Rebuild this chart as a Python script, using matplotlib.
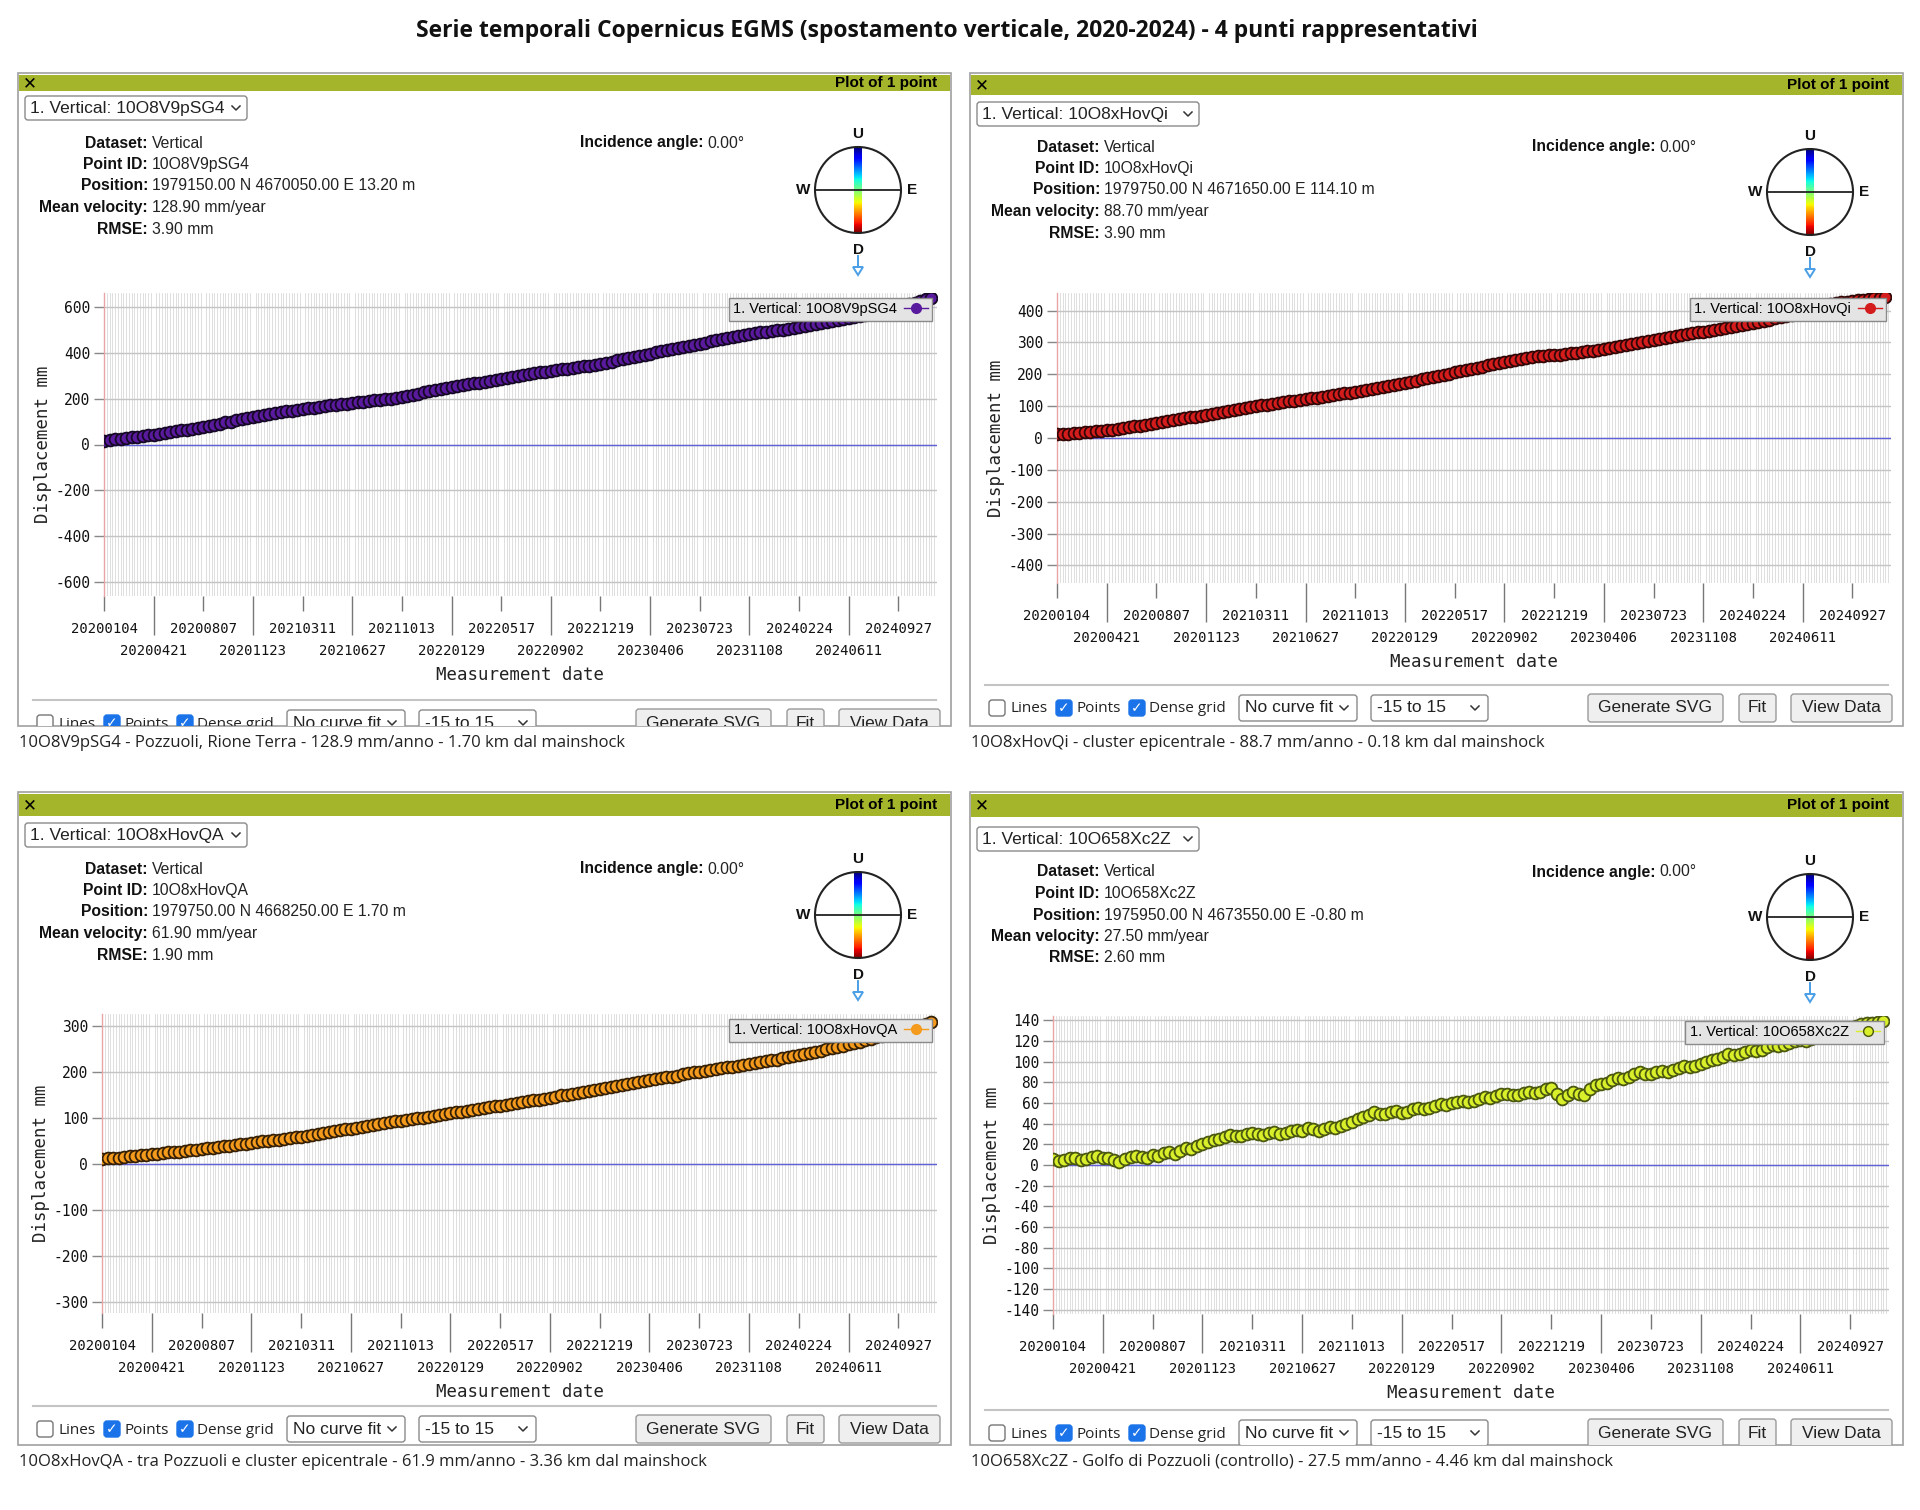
import numpy as np
import matplotlib.pyplot as plt
from matplotlib.patches import Rectangle, FancyBboxPatch, Circle, Polygon
from matplotlib.lines import Line2D
from matplotlib.ticker import MultipleLocator

plt.rcParams['axes.unicode_minus'] = False

W, H = 1920, 1510
PW, PH = 933, 653  # size of one screenshot panel, px

TITLE = "Serie temporali Copernicus EGMS (spostamento verticale, 2020-2024) - 4 punti rappresentativi"

# labelled acquisition dates (every 108 days from 2020-01-04)
tick_dates = ["20200104", "20200421", "20200807", "20201123", "20210311", "20210627",
              "20211013", "20220129", "20220517", "20220902", "20221219", "20230406",
              "20230723", "20231108", "20240224", "20240611", "20240927"]
tick_days = [0, 108, 216, 324, 432, 540, 648, 756, 864, 972, 1080, 1188,
             1296, 1404, 1512, 1620, 1728]
last_day = 1812

# acquisitions kept for plotting: every 2nd Sentinel-1 pass (12 days), days since 2020-01-04
acq_days = np.arange(0, 1801, 12)

point_ids = ["10O8V9pSG4", "10O8xHovQi", "10O8xHovQA", "10O658Xc2Z"]
positions = ["1979150.00 N 4670050.00 E 13.20 m",
             "1979750.00 N 4671650.00 E 114.10 m",
             "1979750.00 N 4668250.00 E 1.70 m",
             "1975950.00 N 4673550.00 E -0.80 m"]
velocities = ["128.90", "88.70", "61.90", "27.50"]
rmse = ["3.90", "3.90", "1.90", "2.60"]
captions = [
    "10O8V9pSG4 - Pozzuoli, Rione Terra - 128.9 mm/anno - 1.70 km dal mainshock",
    "10O8xHovQi - cluster epicentrale - 88.7 mm/anno - 0.18 km dal mainshock",
    "10O8xHovQA - tra Pozzuoli e cluster epicentrale - 61.9 mm/anno - 3.36 km dal mainshock",
    "10O658Xc2Z - Golfo di Pozzuoli (controllo) - 27.5 mm/anno - 4.46 km dal mainshock",
]

# displacement (mm)
disp_1 = [17, 19, 22, 25, 28, 31, 34, 37, 40, 43, 46, 49, 53, 57, 61, 64, 68, 72, 77, 81,
          86, 91, 96, 100, 105, 110, 115, 119, 123, 127, 131, 136, 140, 144, 148, 151, 155, 158, 161, 164,
          167, 170, 173, 175, 178, 181, 184, 186, 189, 192, 195, 197, 200, 203, 207, 212, 217, 222, 227, 231,
          236, 241, 246, 250, 254, 258, 262, 266, 270, 274, 278, 282, 286, 290, 294, 298, 302, 306, 310, 314,
          318, 322, 325, 328, 331, 335, 338, 341, 344, 348, 352, 356, 361, 366, 371, 376, 381, 386, 391, 396,
          401, 406, 411, 415, 420, 425, 430, 435, 440, 444, 449, 454, 459, 464, 469, 474, 478, 481, 484, 488,
          491, 494, 497, 500, 503, 506, 510, 515, 519, 524, 528, 532, 537, 541, 546, 550, 555, 560, 565, 570,
          575, 580, 585, 590, 595, 602, 610, 617, 625, 632, 640]
disp_2 = [12, 13, 14, 15, 17, 18, 19, 21, 22, 24, 26, 28, 31, 34, 37, 39, 42, 44, 47, 50,
          53, 56, 59, 62, 65, 67, 70, 73, 76, 79, 82, 85, 88, 90, 93, 96, 99, 102, 105, 108,
          111, 113, 115, 117, 120, 122, 125, 127, 130, 132, 135, 137, 140, 142, 145, 148, 151, 154, 157, 160,
          164, 167, 170, 173, 177, 180, 184, 187, 191, 195, 199, 202, 206, 209, 213, 217, 221, 224, 228, 231,
          234, 237, 241, 244, 248, 251, 254, 256, 258, 259, 261, 262, 264, 266, 268, 270, 272, 274, 276, 278,
          281, 284, 288, 291, 295, 298, 302, 305, 309, 311, 314, 317, 320, 323, 326, 329, 332, 334, 337, 340,
          343, 346, 349, 352, 356, 359, 362, 365, 368, 371, 375, 379, 383, 387, 392, 396, 401, 405, 410, 414,
          419, 423, 426, 428, 430, 432, 434, 436, 438, 440, 442]
disp_3 = [10, 11, 12, 13, 14, 16, 17, 18, 19, 20, 21, 23, 24, 25, 26, 28, 29, 30, 31, 33,
          34, 36, 37, 39, 40, 42, 43, 45, 46, 48, 49, 51, 52, 54, 55, 57, 58, 60, 62, 64,
          66, 68, 70, 72, 74, 76, 78, 80, 82, 84, 86, 88, 90, 92, 93, 95, 97, 99, 100, 102,
          104, 106, 107, 109, 111, 113, 115, 117, 118, 120, 122, 124, 125, 127, 129, 131, 133, 135, 137, 139,
          141, 143, 145, 148, 150, 152, 154, 156, 158, 160, 162, 164, 166, 168, 170, 173, 175, 177, 179, 181,
          183, 185, 187, 189, 191, 194, 196, 198, 200, 202, 203, 205, 207, 209, 210, 212, 214, 216, 218, 220,
          222, 224, 226, 229, 231, 233, 235, 238, 240, 243, 245, 248, 251, 254, 256, 259, 262, 265, 268, 271,
          274, 277, 280, 283, 286, 289, 292, 296, 300, 304, 308]
disp_4 = [6, 4, 5, 7, 7, 5, 6, 8, 9, 7, 7, 5, 3, 6, 8, 9, 8, 7, 10, 9,
          12, 13, 11, 14, 16, 15, 18, 20, 22, 24, 25, 27, 29, 28, 28, 30, 31, 30, 29, 31,
          32, 30, 31, 33, 34, 33, 36, 35, 33, 35, 37, 36, 38, 40, 42, 44, 46, 48, 51, 49,
          49, 51, 52, 50, 51, 54, 55, 54, 55, 57, 59, 58, 60, 61, 62, 61, 62, 64, 66, 65,
          67, 69, 69, 68, 68, 70, 71, 70, 71, 73, 74, 69, 64, 68, 71, 69, 68, 73, 77, 78,
          79, 82, 84, 83, 85, 88, 90, 88, 88, 90, 91, 90, 92, 94, 96, 95, 96, 98, 100, 101,
          102, 104, 107, 106, 107, 109, 111, 110, 111, 114, 116, 115, 116, 118, 120, 121, 120, 122, 124, 125,
          126, 129, 131, 132, 132, 134, 136, 137, 137, 138, 139]
series = [disp_1, disp_2, disp_3, disp_4]

y_limits = [660, 455, 325, 144]
y_tick_max = [600, 400, 300, 140]
y_tick_step = [200, 100, 100, 20]

face_colors = ["#5a1a9e", "#d41c1c", "#f49a1c", "#d9ef2a"]
edge_colors = ["#150824", "#300606", "#352006", "#4a5810"]

GREEN = "#a4b42b"

# panel geometry in px (relative to panel top-left)
layouts = [
    dict(x0=18, y0=73, bar=18, dd=23, info=70, cy=117, ax=(86, 919, 220, 523), tb=650),
    dict(x0=970, y0=73, bar=22, dd=29, info=74, cy=119, ax=(87, 921, 220, 510), tb=635),
    dict(x0=18, y0=792, bar=24, dd=31, info=77, cy=123, ax=(84, 919, 222, 521), tb=637),
    dict(x0=970, y0=792, bar=25, dd=35, info=80, cy=125, ax=(83, 919, 224, 522), tb=641),
]

fig = plt.figure(figsize=(19.2, 15.1), dpi=100)
fig.patch.set_facecolor("white")
bg = fig.add_axes([0, 0, 1, 1])
bg.axis("off")


def chevron(x, y):
    ln, = bg.plot([x - 4, x, x + 4], [y - 2, y + 2, y - 2], color="#333333", lw=1.1, zorder=4)
    return [ln]


def checkbox(x, y, checked):
    arts = []
    if checked:
        arts.append(bg.add_patch(FancyBboxPatch((x, y - 8), 16, 16,
                                                boxstyle="round,pad=0,rounding_size=3",
                                                fc="#1a73e8", ec="#1a73e8", lw=1, zorder=3)))
        arts.append(bg.text(x + 8, y + 0.5, "✓", ha="center", va="center", color="white",
                            fontsize=10, weight="bold", family="DejaVu Sans", zorder=4))
    else:
        arts.append(bg.add_patch(FancyBboxPatch((x, y - 8), 16, 16,
                                                boxstyle="round,pad=0,rounding_size=3",
                                                fc="white", ec="#767676", lw=1, zorder=3)))
    return arts


def draw_panel(i):
    L = layouts[i]
    x0, y0 = L["x0"], L["y0"]
    pid = point_ids[i]

    frame = Rectangle((x0, y0), PW, PH, fc="white", ec="#a0a0a0", lw=1.2, zorder=1)
    bg.add_patch(frame)
    bg.add_patch(Rectangle((x0 + 1, y0 + 2), PW - 2, L["bar"] - 2, fc=GREEN, ec="none", zorder=2))
    bar_c = y0 + 2 + (L["bar"] - 2) / 2
    bg.text(x0 + 12, bar_c, "✕", fontsize=12, ha="center", va="center", family="DejaVu Sans", zorder=3)
    bg.text(x0 + PW - 14, bar_c, "Plot of 1 point", ha="right", va="center", fontsize=11,
            weight="bold", family="Liberation Sans", zorder=3)

    # series dropdown
    dd = y0 + L["dd"]
    bg.add_patch(FancyBboxPatch((x0 + 7, dd), 222, 24, boxstyle="round,pad=0,rounding_size=3",
                                fc="white", ec="#8a8a8a", lw=1, zorder=2))
    bg.text(x0 + 12, dd + 12.5, f"1. Vertical: {pid}", va="center", fontsize=12.5,
            family="Liberation Sans", color="#222222", zorder=3)
    chevron(x0 + 218, dd + 12)

    # info block
    labels = ["Dataset:", "Point ID:", "Position:", "Mean velocity:", "RMSE:"]
    values = ["Vertical", pid, positions[i], f"{velocities[i]} mm/year", f"{rmse[i]} mm"]
    for k, (lab, val) in enumerate(zip(labels, values)):
        y = y0 + L["info"] + k * 21.5
        bg.text(x0 + 130, y, lab, ha="right", va="center", weight="bold", fontsize=11.3,
                family="Liberation Sans", color="#111111", zorder=3)
        bg.text(x0 + 134, y, val, ha="left", va="center", fontsize=11.3,
                family="Liberation Sans", color="#222222", zorder=3)
    yi = y0 + L["info"]
    bg.text(x0 + 685, yi, "Incidence angle:", ha="right", va="center", weight="bold", fontsize=11.3,
            family="Liberation Sans", color="#111111", zorder=3)
    bg.text(x0 + 689, yi, "0.00°", ha="left", va="center", fontsize=11.3,
            family="Liberation Sans", color="#222222", zorder=3)

    # compass
    cx, cy, r = x0 + 840, y0 + L["cy"], 43
    bg.imshow(np.linspace(0, 1, 120).reshape(-1, 1), extent=(cx - 4, cx + 4, cy + r, cy - r),
              cmap="jet", aspect="auto", zorder=3)
    bg.add_patch(Circle((cx, cy), r, fill=False, ec="#222222", lw=1.5, zorder=4))
    bg.plot([cx - r, cx + r], [cy, cy], color="#222222", lw=1.3, zorder=4)
    for s, dx, dy in [("U", 0, -56), ("W", -55, 0), ("E", 54, 0), ("D", 0, 60)]:
        bg.text(cx + dx, cy + dy, s, ha="center", va="center", weight="bold", fontsize=11,
                family="Liberation Sans", color="#111111", zorder=4)
    bg.plot([cx, cx], [cy + 66, cy + 77], color="#4a9fe6", lw=1.4, zorder=4)
    bg.add_patch(Polygon([[cx - 5, cy + 77], [cx + 5, cy + 77], [cx, cy + 85]], closed=True,
                         fill=False, ec="#4a9fe6", lw=1.4, zorder=4))

    # time-series axes
    l, rgt, t, b = L["ax"]
    ax = fig.add_axes([(x0 + l) / W, 1 - (y0 + b) / H, (rgt - l) / W, (b - t) / H])
    ax.set_facecolor("white")
    yl = y_limits[i]
    ax.set_xlim(0, last_day)
    ax.set_ylim(-yl, yl)

    ax.xaxis.set_minor_locator(MultipleLocator(6))
    ax.grid(which="minor", axis="x", color="#d2d2d2", lw=0.5)
    ax.set_yticks(np.arange(-y_tick_max[i], y_tick_max[i] + 1, y_tick_step[i]))
    ax.grid(which="major", axis="y", color="#c4c4c4", lw=1)
    ax.set_axisbelow(True)
    ax.axhline(0, color="#6060d8", lw=1, zorder=2)

    ax.plot(acq_days, series[i], "o", ms=8.5, mfc=face_colors[i], mec=edge_colors[i], mew=1.3,
            zorder=3)

    for sp in ["top", "right", "bottom"]:
        ax.spines[sp].set_visible(False)
    ax.spines["left"].set_color("#e9a5a5")
    ax.spines["left"].set_linewidth(1)

    ax.set_xticks(tick_days)
    ax.set_xticklabels(tick_dates)
    ax.tick_params(axis="x", which="major", length=11, width=1, color="#777777", pad=8,
                   labelsize=10, labelcolor="#111111")
    ax.tick_params(axis="x", which="minor", length=0)
    # odd dates go on a second row, with a longer tick reaching down to them
    for k, tk in enumerate(ax.xaxis.get_major_ticks()):
        if k % 2 == 1:
            tk.set_pad(8 + 22 * 0.72)
            tk.tick1line.set_markersize(28)
    for lab in ax.get_xticklabels():
        lab.set_fontfamily("DejaVu Sans Mono")
    ax.tick_params(axis="y", length=7, width=1, color="#888888", pad=3, labelsize=10.5,
                   labelcolor="#111111")
    for lab in ax.get_yticklabels():
        lab.set_fontfamily("DejaVu Sans Mono")

    ax.set_xlabel("Measurement date", family="DejaVu Sans Mono", fontsize=12.5, color="#222222")
    ax.xaxis.set_label_coords(0.5, -70 / (b - t))
    ax.set_ylabel("Displacement mm", family="DejaVu Sans Mono", fontsize=12.5, color="#222222")
    ax.yaxis.set_label_coords(-52 / (rgt - l), 0.5)

    handle = Line2D([], [], color=face_colors[i], lw=1, marker="o", ms=7,
                    mfc=face_colors[i], mec=edge_colors[i] if i == 3 else face_colors[i])
    ax.legend([handle], [f"1. Vertical: {pid}"], loc="upper right", markerfirst=False,
              fancybox=False, facecolor="#e4e4e4", edgecolor="#8a8a8a", framealpha=1,
              borderpad=0.3, handlelength=1.6, handletextpad=0.5, borderaxespad=0.35,
              prop={"family": "Liberation Sans", "size": 10.5})

    # toolbar below the plot
    tb = y0 + L["tb"]
    arts = []
    arts += bg.plot([x0 + 15, x0 + 918], [tb - 23, tb - 23], color="#c4c4c4", lw=1.5, zorder=2)
    for cbx, txt, tx, chk in [(19, "Lines", 40, False), (86, "Points", 106, True),
                              (159, "Dense grid", 179, True)]:
        arts += checkbox(x0 + cbx, tb, chk)
        arts.append(bg.text(x0 + tx, tb + 1, txt, va="center", fontsize=11, family="Open Sans",
                            color="#222222", zorder=3))
    for bx0, bx1, txt in [(269, 387, "No curve fit"), (401, 518, "-15 to 15")]:
        arts.append(bg.add_patch(FancyBboxPatch((x0 + bx0, tb - 13), bx1 - bx0, 26,
                                                boxstyle="round,pad=0,rounding_size=3",
                                                fc="white", ec="#8a8a8a", lw=1, zorder=2)))
        arts.append(bg.text(x0 + bx0 + 6, tb, txt, va="center", fontsize=12.5,
                            family="Liberation Sans", color="#222222", zorder=3))
        arts += chevron(x0 + bx1 - 13, tb)
    for bx0, bx1, txt in [(618, 753, "Generate SVG"), (769, 806, "Fit"), (821, 922, "View Data")]:
        arts.append(bg.add_patch(FancyBboxPatch((x0 + bx0, tb - 14), bx1 - bx0, 28,
                                                boxstyle="round,pad=0,rounding_size=3",
                                                fc="#efefef", ec="#9a9a9a", lw=1, zorder=2)))
        arts.append(bg.text(x0 + (bx0 + bx1) / 2, tb, txt, ha="center", va="center", fontsize=12.5,
                            family="Liberation Sans", color="#222222", zorder=3))
    clip = Rectangle((x0, y0), PW, PH, transform=bg.transData)
    for a in arts:
        a.set_clip_on(True)
        a.set_clip_path(clip)

    bg.text(x0 + 1, y0 + PH + 17, captions[i], va="center", fontsize=12, family="Open Sans",
            color="#222222", zorder=3)


for i in range(4):
    draw_panel(i)

bg.text(947, 31, TITLE, ha="center", va="center", weight="bold", fontsize=16.5,
        family="Open Sans", color="#111111")

bg.set_xlim(0, W)
bg.set_ylim(H, 0)

fig.savefig("out.png", dpi=100)
